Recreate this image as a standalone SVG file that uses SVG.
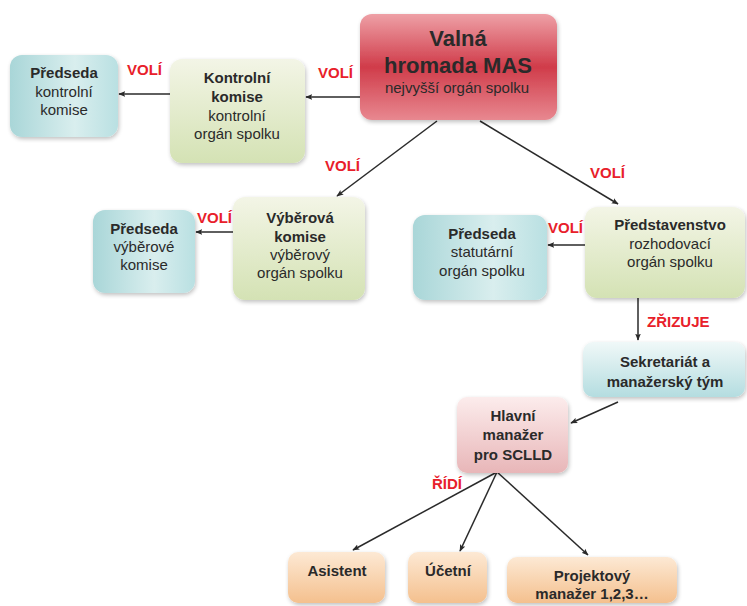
<svg xmlns="http://www.w3.org/2000/svg" width="747" height="606" viewBox="0 0 747 606">
<defs>
<style>
text{font-family:"Liberation Sans",Arial,sans-serif;fill:#2a2a2a;text-anchor:middle}
.t{font-size:15px;font-weight:bold}
.s{font-size:15px}
.big{font-size:22px;font-weight:bold}
.lab{font-size:15px;font-weight:bold;fill:#e8202a;text-anchor:start}
.con{stroke:#2a2a2a;stroke-width:1.5;fill:none;marker-end:url(#ah)}
.box{stroke:none;filter:url(#sh)}
</style>
<marker id="ah" viewBox="0 0 10 10" refX="9" refY="5" markerWidth="7" markerHeight="7" orient="auto" markerUnits="userSpaceOnUse">
<path d="M0,1 L10,5 L0,9 L2,5 z" fill="#2a2a2a"/>
</marker>
<filter id="sh" x="-10%" y="-10%" width="125%" height="130%">
<feGaussianBlur in="SourceAlpha" stdDeviation="2"/>
<feOffset dx="1" dy="2"/>
<feComponentTransfer><feFuncA type="linear" slope="0.25"/></feComponentTransfer>
<feMerge><feMergeNode/><feMergeNode in="SourceGraphic"/></feMerge>
</filter>
<linearGradient id="gRed" x1="0" y1="0" x2="0" y2="1">
<stop offset="0" stop-color="#eea0a6"/>
<stop offset="0.5" stop-color="#d03c4a"/>
<stop offset="1" stop-color="#e88890"/>
</linearGradient>
<linearGradient id="gGreen" x1="0" y1="0" x2="0" y2="1">
<stop offset="0" stop-color="#f3f5e6"/>
<stop offset="1" stop-color="#d4e2b4"/>
</linearGradient>
<linearGradient id="gBlue" x1="0" y1="0" x2="1" y2="0">
<stop offset="0" stop-color="#a9d6d8"/>
<stop offset="0.6" stop-color="#d9eeee"/>
<stop offset="1" stop-color="#b9e0e2"/>
</linearGradient>
<linearGradient id="gBlueV" x1="0" y1="0" x2="0" y2="1">
<stop offset="0" stop-color="#f0f8f8"/>
<stop offset="1" stop-color="#b4dde0"/>
</linearGradient>
<linearGradient id="gPink" x1="0" y1="0" x2="0" y2="1">
<stop offset="0" stop-color="#fcecec"/>
<stop offset="1" stop-color="#e8b6b8"/>
</linearGradient>
<linearGradient id="gOrange" x1="0" y1="0" x2="0" y2="1">
<stop offset="0" stop-color="#fde9d4"/>
<stop offset="1" stop-color="#f4c08e"/>
</linearGradient>
</defs>
<rect width="747" height="606" fill="#ffffff"/>

<g id="connectors">
<line class="con" x1="360" y1="97" x2="306" y2="97"/>
<line class="con" x1="170" y1="94" x2="119" y2="94"/>
<line class="con" x1="437" y1="121" x2="337" y2="196"/>
<line class="con" x1="480" y1="121" x2="618" y2="204"/>
<line class="con" x1="233" y1="232" x2="196" y2="232"/>
<line class="con" x1="585" y1="245" x2="548" y2="245"/>
<line class="con" x1="638" y1="298" x2="638" y2="340"/>
<line class="con" x1="618" y1="402" x2="571" y2="423"/>
<line class="con" x1="497" y1="472" x2="353" y2="550"/>
<line class="con" x1="497" y1="472" x2="460" y2="551"/>
<line class="con" x1="497" y1="472" x2="588" y2="555"/>
</g>

<g id="labels">
<text class="lab" x="127" y="75">VOLÍ</text>
<text class="lab" x="318" y="78">VOLÍ</text>
<text class="lab" x="325" y="171">VOLÍ</text>
<text class="lab" x="590" y="178">VOLÍ</text>
<text class="lab" x="197" y="223">VOLÍ</text>
<text class="lab" x="548" y="233">VOLÍ</text>
<text class="lab" x="647" y="327">ZŘIZUJE</text>
<text class="lab" x="432" y="489">ŘÍDÍ</text>
</g>

<g id="valna">
<rect class="box" x="360" y="14" width="197" height="106" rx="12" fill="url(#gRed)" stroke="#c05060"/>
<text class="big" x="458" y="46">Valná</text>
<text class="big" x="458" y="73">hromada MAS</text>
<text class="s" x="457" y="93">nejvyšší orgán spolku</text>
</g>

<g id="kontrolni">
<rect class="box" x="170" y="59" width="135" height="104" rx="12" fill="url(#gGreen)"/>
<text class="t" x="237" y="83">Kontrolní</text>
<text class="t" x="237" y="102">komise</text>
<text class="s" x="237" y="121">kontrolní</text>
<text class="s" x="237" y="139">orgán spolku</text>
</g>

<g id="predseda-kontrolni">
<rect class="box" x="10" y="55" width="108" height="82" rx="12" fill="url(#gBlue)"/>
<text class="t" x="64" y="78">Předseda</text>
<text class="s" x="64" y="97">kontrolní</text>
<text class="s" x="64" y="115">komise</text>
</g>

<g id="vyberova">
<rect class="box" x="233" y="197" width="132" height="103" rx="12" fill="url(#gGreen)"/>
<text class="t" x="300" y="223">Výběrová</text>
<text class="t" x="300" y="242">komise</text>
<text class="s" x="300" y="260">výběrový</text>
<text class="s" x="300" y="278">orgán spolku</text>
</g>

<g id="predseda-vyberove">
<rect class="box" x="93" y="210" width="102" height="83" rx="12" fill="url(#gBlue)"/>
<text class="t" x="144" y="234">Předseda</text>
<text class="s" x="144" y="252">výběrové</text>
<text class="s" x="144" y="270">komise</text>
</g>

<g id="predstavenstvo">
<rect class="box" x="585" y="207" width="160" height="91" rx="12" fill="url(#gGreen)"/>
<text class="t" x="670" y="230">Představenstvo</text>
<text class="s" x="670" y="249">rozhodovací</text>
<text class="s" x="670" y="267">orgán spolku</text>
</g>

<g id="predseda-statutarni">
<rect class="box" x="413" y="215" width="134" height="85" rx="12" fill="url(#gBlue)"/>
<text class="t" x="482" y="239">Předseda</text>
<text class="s" x="482" y="257">statutární</text>
<text class="s" x="482" y="276">orgán spolku</text>
</g>

<g id="sekretariat">
<rect class="box" x="583" y="342" width="162" height="55" rx="10" fill="url(#gBlueV)"/>
<text class="t" x="665" y="367">Sekretariát a</text>
<text class="t" x="665" y="387">manažerský tým</text>
</g>

<g id="hlavni">
<rect class="box" x="457" y="397" width="111" height="76" rx="10" fill="url(#gPink)"/>
<text class="t" x="513" y="421">Hlavní</text>
<text class="t" x="513" y="440">manažer</text>
<text class="t" x="513" y="460">pro SCLLD</text>
</g>

<g id="asistent">
<rect class="box" x="288" y="552" width="97" height="51" rx="10" fill="url(#gOrange)"/>
<text class="t" x="337" y="576">Asistent</text>
</g>

<g id="ucetni">
<rect class="box" x="408" y="552" width="79" height="51" rx="10" fill="url(#gOrange)"/>
<text class="t" x="448" y="576">Účetní</text>
</g>

<g id="projektovy">
<rect class="box" x="507" y="557" width="170" height="46" rx="10" fill="url(#gOrange)"/>
<text class="t" x="592" y="581">Projektový</text>
<text class="t" x="592" y="599">manažer 1,2,3…</text>
</g>
</svg>
